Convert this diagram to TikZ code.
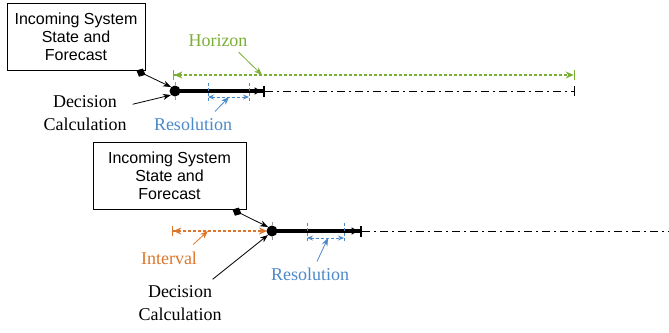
\documentclass[tikz,border=0pt]{standalone}
\usepackage{fontspec}
\setmainfont{Liberation Serif}
\setsansfont{Liberation Sans}
\usetikzlibrary{arrows.meta}
\definecolor{horizongreen}{RGB}{122,174,52}
\definecolor{intervalorange}{RGB}{221,118,45}
\definecolor{resblue}{RGB}{76,137,201}
\definecolor{tickgrey}{RGB}{150,150,150}

\begin{document}
\begin{tikzpicture}[x=1pt, y=-1pt, every node/.style={inner sep=0pt},
    infobox/.style={draw, rectangle, line width=0.9pt, minimum height=67pt, align=center, font=\sffamily\fontsize{16}{18}\selectfont},
    lbl/.style={align=center, font=\rmfamily\fontsize{18}{23}\selectfont},
    decdot/.style={circle, fill=black, minimum size=11pt},
    pointer/.style={line width=0.8pt, -{Stealth[length=8pt,width=6pt]}},
    boxpointer/.style={line width=0.8pt, {Diamond[length=10pt,width=9pt]}-{Stealth[length=8pt,width=6pt]}},
    stepline/.style={line width=3.2pt, -{Latex[length=8pt,width=8pt]Bar[width=11pt,line width=2.5pt]}},
    restline/.style={line width=0.9pt, dash pattern=on 8pt off 4pt on 2pt off 4pt},
    tick/.style={line width=0.7pt, dash pattern=on 3pt off 2pt},
    dimline/.style={line width=1.3pt, dash pattern=on 3pt off 2pt}]
    \useasboundingbox (0,0) rectangle (669,332);

    % first decision
    \node[infobox, minimum width=138pt] (stateA) at (76,36.5) {Incoming System\\State and\\Forecast};
    \node[lbl] (calcA) at (85,113) {Decision\\Calculation};
    \node[lbl, text=horizongreen] (horizonA) at (218,41) {Horizon};
    \node[lbl, text=resblue] (resA) at (193,124) {Resolution};
    \coordinate (tickA1) at (175,82);
    \coordinate (tickA2) at (175,102);
    \draw[tick, tickgrey] (tickA1) -- (tickA2);
    \node[decdot] (dotA) at (175,91) {};
    \coordinate (stepA) at (265,91);
    \coordinate (endA) at (575,91);
    \coordinate (hzL) at (173,75);
    \coordinate (hzR) at (575,75);
    \coordinate (hzTip) at (262,75);
    \coordinate (rsA1) at (208,83);
    \coordinate (rsA2) at (208,103);
    \coordinate (rsA3) at (249,83);
    \coordinate (rsA4) at (249,103);
    \coordinate (rsAL) at (208,97);
    \coordinate (rsAR) at (249,97);
    \coordinate (rsTipA) at (229,97);
    \draw[stepline] (dotA.center) -- (stepA);
    \draw[restline, -{Bar[width=10pt,line width=1pt]}] (stepA) -- (endA);
    \draw[dimline, horizongreen, {Bar[width=10pt]Stealth[length=8pt,width=7pt]}-{Stealth[length=8pt,width=7pt]Bar[width=10pt]}] (hzL) -- (hzR);
    \draw[tick, resblue] (rsA1) -- (rsA2);
    \draw[tick, resblue] (rsA3) -- (rsA4);
    \draw[tick, resblue, line width=0.9pt, {Stealth[length=6pt,width=5pt]}-{Stealth[length=6pt,width=5pt]}] (rsAL) -- (rsAR);
    \draw[boxpointer] ([xshift=-9pt]stateA.south east) -- (dotA.north west);
    \draw[pointer] ([xshift=6pt,yshift=-9pt]calcA.north east) -- (dotA.south west);
    \draw[pointer, horizongreen] ([xshift=-9pt,yshift=-5pt]horizonA.south east) -- (hzTip);
    \draw[pointer, resblue] ([xshift=22pt,yshift=6pt]resA.north) -- (rsTipA);

    % second decision
    \node[infobox, minimum width=153pt] (stateB) at (169.5,175.5) {Incoming System\\State and\\Forecast};
    \node[lbl] (calcB) at (180,303) {Decision\\Calculation};
    \node[lbl, text=intervalorange] (intervalB) at (169,258) {Interval};
    \node[lbl, text=resblue] (resB) at (310,274) {Resolution};
    \coordinate (tickB1) at (272,222);
    \coordinate (tickB2) at (272,240);
    \draw[tick, tickgrey] (tickB1) -- (tickB2);
    \coordinate (ivL) at (172,231);
    \coordinate (ivR) at (267,231);
    \coordinate (ivTip) at (208,231);
    \draw[dimline, intervalorange, {Bar[width=10pt]Stealth[length=8pt,width=7pt]}-{Stealth[length=8pt,width=7pt]}] (ivL) -- (ivR);
    \node[decdot] (dotB) at (272,231) {};
    \coordinate (stepB) at (362,231);
    \coordinate (endB) at (669,231);
    \coordinate (rsB1) at (307,223);
    \coordinate (rsB2) at (307,242);
    \coordinate (rsB3) at (344,223);
    \coordinate (rsB4) at (344,242);
    \coordinate (rsBL) at (307,238);
    \coordinate (rsBR) at (344,238);
    \coordinate (rsTipB) at (328,238);
    \draw[stepline] (dotB.center) -- (stepB);
    \draw[restline] (stepB) -- (endB);
    \draw[tick, resblue] (rsB1) -- (rsB2);
    \draw[tick, resblue] (rsB3) -- (rsB4);
    \draw[tick, resblue, line width=0.9pt, {Stealth[length=6pt,width=5pt]}-{Stealth[length=6pt,width=5pt]}] (rsBL) -- (rsBR);
    \draw[boxpointer] ([xshift=-14pt]stateB.south east) -- (dotB.north west);
    \draw[pointer] ([xshift=-9pt,yshift=6pt]calcB.north east) -- (dotB.south west);
    \draw[pointer, intervalorange] ([xshift=-4pt,yshift=7pt]intervalB.north east) -- (ivTip);
    \draw[pointer, resblue] ([xshift=7pt,yshift=6pt]resB.north) -- (rsTipB);
\end{tikzpicture}
\end{document}
